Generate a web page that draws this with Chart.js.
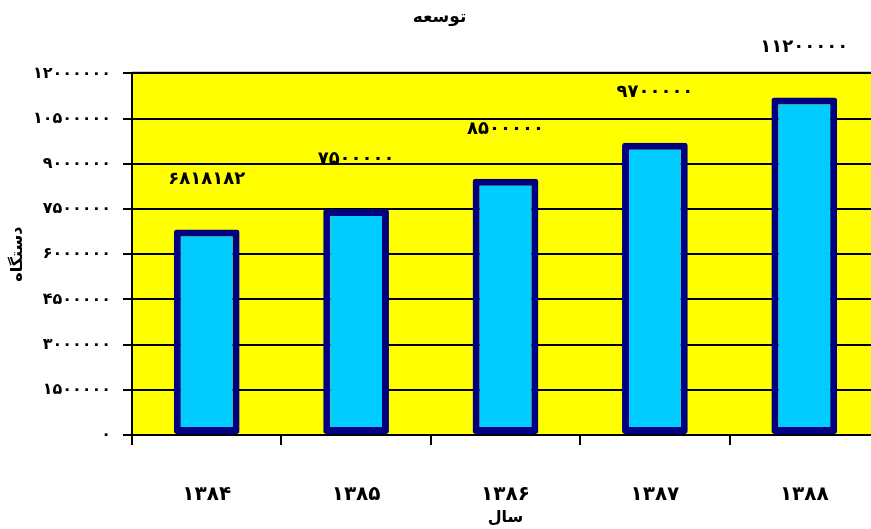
<!DOCTYPE html>
<html>
<head>
<meta charset="utf-8">
<script src="https://cdn.jsdelivr.net/npm/chart.js@4"></script>
<style>
  html, body { margin: 0; padding: 0; background: #fff; overflow: hidden; }
  #wrap { width: 879px; height: 529px; }
</style>
</head>
<body>
<div id="wrap"><canvas id="myChart"></canvas></div>
<script>
// data
var years = [1384, 1385, 1386, 1387, 1388];
var devices = [6818182, 7500000, 8500000, 9700000, 11200000];
var yTicks = [0, 1500000, 3000000, 4500000, 6000000, 7500000, 9000000, 10500000, 12000000];

var chartTitle = 'توسعه';
var yTitle = 'دستگاه';
var xTitle = 'سال';

// persian digits
function fa(n) {
  var d = '۰۱۲۳۴۵۶۷۸۹';
  return String(n).replace(/[0-9]/g, function (c) { return d[+c]; });
}

var FONT = "'DejaVu Sans', sans-serif";

// yellow plot background + grey top line
var plotBg = {
  id: 'plotBg',
  beforeDraw: function (chart) {
    var a = chart.chartArea, ctx = chart.ctx;
    ctx.save();
    ctx.fillStyle = '#ffff00';
    ctx.fillRect(a.left, a.top, a.right - a.left, a.bottom - a.top);
    ctx.strokeStyle = '#999999';
    ctx.lineWidth = 2;
    ctx.beginPath();
    ctx.moveTo(a.left, a.top - 1);
    ctx.lineTo(a.right, a.top - 1);
    ctx.stroke();
    ctx.restore();
  }
};

// value labels above the bars
var valueLabels = {
  id: 'valueLabels',
  afterDatasetsDraw: function (chart) {
    var ctx = chart.ctx;
    var meta = chart.getDatasetMeta(0);
    ctx.save();
    ctx.font = 'bold 18px ' + FONT;
    ctx.fillStyle = '#000';
    ctx.textAlign = 'center';
    ctx.textBaseline = 'middle';
    meta.data.forEach(function (bar, i) {
      ctx.fillText(fa(devices[i]), bar.x, bar.y - 50);
    });
    ctx.restore();
  }
};

const data = {
  labels: years.map(fa),
  datasets: [{
    label: yTitle,
    data: devices,
    backgroundColor: '#00ccff',
    borderColor: '#000080',
    borderWidth: 7,
    borderSkipped: false,
    borderRadius: 3,
    categoryPercentage: 1,
    barPercentage: 0.44
  }]
};

//CONFIG
const config = {
  type: 'bar',
  data: data,
  options: {
    responsive: true,
    maintainAspectRatio: false,
    animation: false,
    plugins: {
      legend: { display: false },
      tooltip: { enabled: false },
      title: {
        display: true,
        text: chartTitle,
        color: '#000',
        font: { family: FONT, size: 17, weight: 'bold' },
        padding: { top: 7, bottom: 46 }
      }
    },
    scales: {
      x: {
        offset: true,
        grid: {
          offset: true,
          drawOnChartArea: false,
          drawTicks: true,
          tickLength: 10,
          color: '#000',
          lineWidth: 2
        },
        border: { color: '#000', width: 2 },
        ticks: {
          color: '#000',
          padding: 38,
          font: { family: FONT, size: 20, weight: 'bold' }
        },
        title: {
          display: true,
          text: xTitle,
          color: '#000',
          font: { family: FONT, size: 16, weight: 'bold' },
          padding: { top: 0, bottom: 2 }
        },
        afterFit: function (s) { s.height = 94; }
      },
      y: {
        min: 0,
        max: 12000000,
        afterBuildTicks: function (s) {
          s.ticks = yTicks.map(function (v) { return { value: v }; });
        },
        grid: {
          color: '#000',
          lineWidth: 2,
          drawTicks: true,
          tickLength: 9
        },
        border: { color: '#000', width: 2 },
        ticks: {
          color: '#000',
          padding: 12,
          font: { family: FONT, size: 16, weight: 'bold' },
          callback: function (v) { return fa(v); }
        },
        title: {
          display: true,
          text: yTitle,
          color: '#000',
          font: { family: FONT, size: 16, weight: 'bold' },
          padding: { top: 8, bottom: 4 }
        },
        afterFit: function (s) { s.width = 132; }
      }
    }
  },
  plugins: [plotBg, valueLabels]
};

//Render
const myChart = new Chart(document.getElementById('myChart'), config);
</script>
</body>
</html>
